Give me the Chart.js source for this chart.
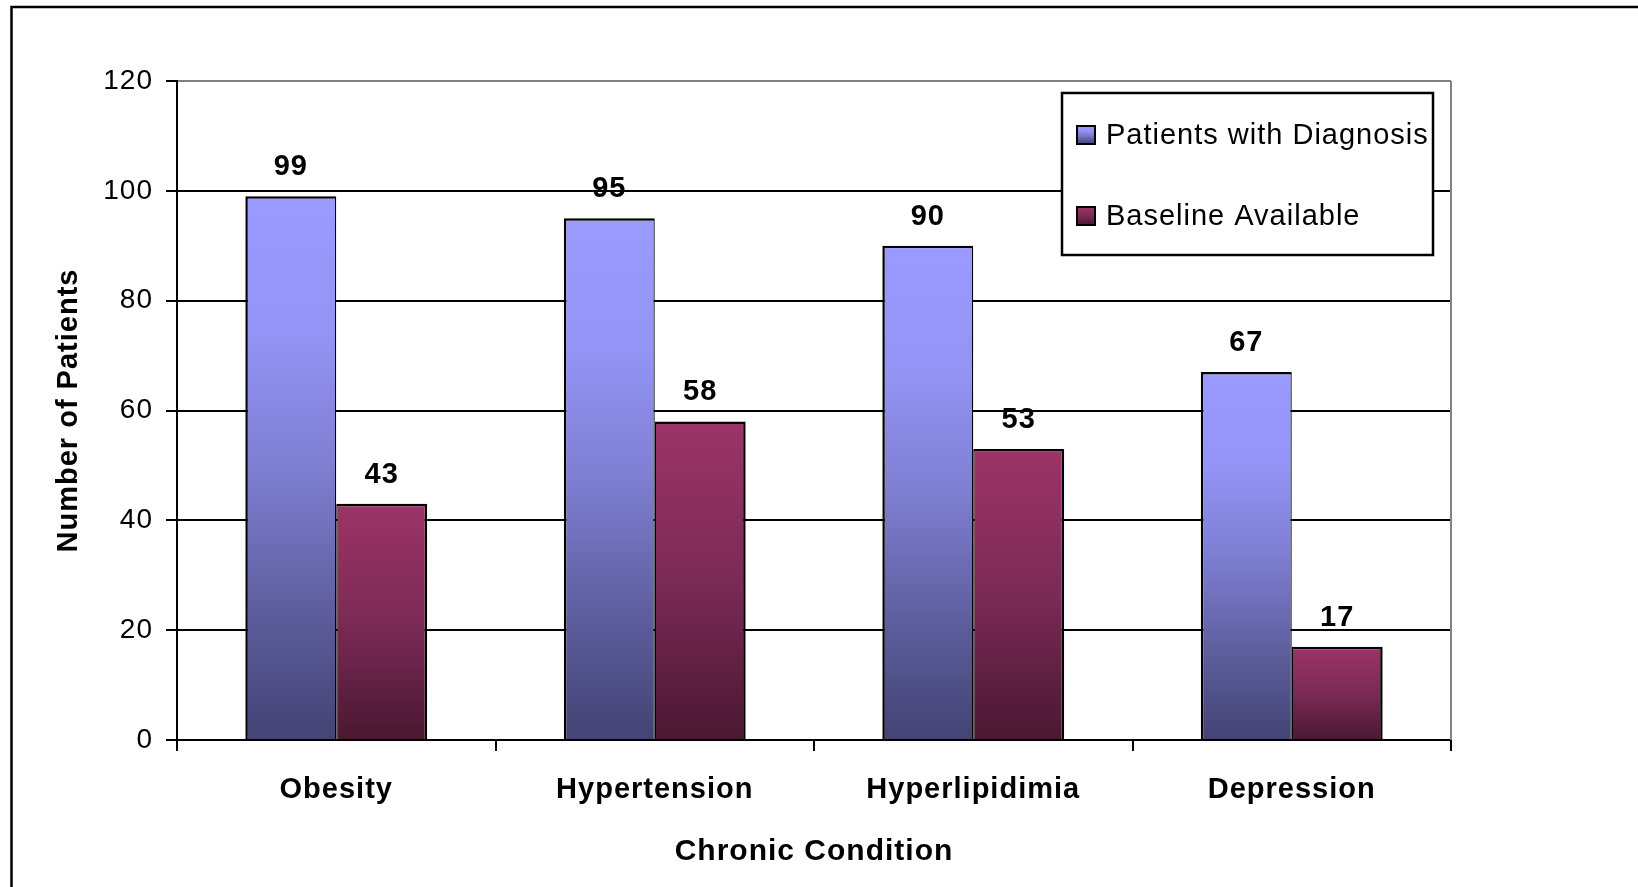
<!DOCTYPE html>
<html>
<head>
<meta charset="utf-8">
<title>Chronic Condition</title>
<style>
  html, body { margin: 0; padding: 0; background: #fff; }
  canvas { display: block; }
</style>
<script src="https://cdn.jsdelivr.net/npm/chart.js@4.4.1/dist/chart.umd.min.js"></script>
</head>
<body>
<canvas id="chart" width="1638" height="887"></canvas>
<script>
// ---- data ----
const categories = ['Obesity', 'Hypertension', 'Hyperlipidimia', 'Depression'];
const patientsWithDiagnosis = [99, 95, 90, 67];
const baselineAvailable = [43, 58, 53, 17];
const yTicks = [0, 20, 40, 60, 80, 100, 120];
const seriesNames = ['Patients with Diagnosis', 'Baseline Available'];
const xTitle = 'Chronic Condition';
const yTitle = 'Number of Patients';

// ---- styling ----
const FONT = '"Liberation Sans", Arial, Helvetica, sans-serif';
const blueStops = [[0, '#9a9aff'], [0.25, '#9494f6'], [0.5, '#7e7ed2'], [0.75, '#5f5fa0'], [1, '#434374']];
const redStops = [[0, '#9c3467'], [0.5, '#7b2a56'], [1, '#4a1831']];

function makeGradient(ctx2d, top, bottom, stops) {
  const g = ctx2d.createLinearGradient(0, top, 0, bottom);
  stops.forEach(([o, c]) => g.addColorStop(o, c));
  return g;
}

// each bar gets its own top-to-bottom shading
function barFill(stops) {
  return (ctx) => {
    const chart = ctx.chart;
    if (!chart.chartArea || ctx.type !== 'data') return stops[0][1];
    const y = chart.scales.y;
    return makeGradient(chart.ctx, y.getPixelForValue(ctx.raw), y.getPixelForValue(0), stops);
  };
}

// outer frame of the figure, plus slightly open text tracking for all labels
const framePlugin = {
  id: 'frame',
  beforeDraw(chart) {
    const c = chart.ctx;
    c.letterSpacing = '1px';
    c.save();
    c.fillStyle = '#fff';
    c.fillRect(0, 0, chart.width, chart.height);
    c.strokeStyle = '#000';
    c.lineWidth = 2.5;
    c.beginPath();
    c.moveTo(11.5, chart.height + 5);
    c.lineTo(11.5, 7);
    c.lineTo(chart.width + 5, 7);
    c.stroke();
    c.restore();
  }
};

// grey right edge of the plot area
const plotEdgePlugin = {
  id: 'plotEdge',
  beforeDatasetsDraw(chart) {
    const {ctx: c, chartArea: a} = chart;
    c.save();
    c.strokeStyle = '#808080';
    c.lineWidth = 2;
    c.beginPath();
    c.moveTo(a.right, a.top);
    c.lineTo(a.right, a.bottom);
    c.stroke();
    c.restore();
  }
};

// value labels above bars
const valueLabelPlugin = {
  id: 'valueLabels',
  afterDatasetsDraw(chart) {
    const c = chart.ctx;
    c.save();
    c.font = 'bold 29px ' + FONT;
    c.fillStyle = '#000';
    c.textAlign = 'center';
    c.textBaseline = 'middle';
    chart.data.datasets.forEach((ds, i) => {
      chart.getDatasetMeta(i).data.forEach((bar, j) => {
        c.fillText(String(ds.data[j]), bar.x, bar.y - 29);
      });
    });
    c.restore();
  }
};

// boxed legend inside the plot area
const boxLegendPlugin = {
  id: 'boxLegend',
  afterDraw(chart) {
    const c = chart.ctx;
    const box = {x: 1062, y: 93, w: 371, h: 162};
    c.save();
    c.fillStyle = '#fff';
    c.fillRect(box.x, box.y, box.w, box.h);
    c.strokeStyle = '#000';
    c.lineWidth = 2.5;
    c.strokeRect(box.x, box.y, box.w, box.h);
    const rows = [135, 216];
    const stopsList = [blueStops, redStops];
    c.font = '29px ' + FONT;
    c.textBaseline = 'middle';
    c.textAlign = 'left';
    chart.data.datasets.forEach((ds, i) => {
      const cy = rows[i];
      const s = 18;
      c.fillStyle = makeGradient(c, cy - s / 2, cy + s / 2, stopsList[i]);
      c.fillRect(1077, cy - s / 2, s, s);
      c.lineWidth = 2;
      c.strokeStyle = '#000';
      c.strokeRect(1077, cy - s / 2, s, s);
      c.fillStyle = '#000';
      c.fillText(ds.label, 1106, cy + 1);
    });
    c.restore();
  }
};

new Chart(document.getElementById('chart'), {
  type: 'bar',
  data: {
    labels: categories,
    datasets: [
      {
        label: seriesNames[0],
        data: patientsWithDiagnosis,
        backgroundColor: barFill(blueStops),
        borderColor: '#000',
        borderWidth: {top: 2.5, left: 2.5, right: 1.25, bottom: 0}
      },
      {
        label: seriesNames[1],
        data: baselineAvailable,
        backgroundColor: barFill(redStops),
        borderColor: '#000',
        borderWidth: {top: 2.5, left: 1.25, right: 2.5, bottom: 0}
      }
    ]
  },
  options: {
    responsive: false,
    animation: false,
    devicePixelRatio: 1,
    categoryPercentage: 0.571,
    barPercentage: 1,
    layout: { padding: { top: 81, right: 187, bottom: 0, left: 0 } },
    plugins: {
      legend: { display: false },
      tooltip: { enabled: false }
    },
    scales: {
      x: {
        grid: { offset: true, drawOnChartArea: false, drawTicks: true, tickLength: 11, color: '#000', lineWidth: 2 },
        border: { display: true, color: '#000', width: 2 },
        ticks: { color: '#000', font: { family: FONT, size: 29, weight: 'bold' }, padding: 22 },
        title: { display: true, text: xTitle, color: '#000', font: { family: FONT, size: 30, weight: 'bold' }, padding: { top: 0, bottom: 17 } },
        afterFit: (s) => { s.height = 147; }
      },
      y: {
        min: 0,
        max: 120,
        afterBuildTicks: (s) => { s.ticks = yTicks.map(v => ({ value: v })); },
        grid: {
          color: (c) => (c.tick && c.tick.value === 120 ? '#808080' : '#000'),
          tickColor: '#000',
          lineWidth: 2,
          tickLength: 11,
          drawTicks: true
        },
        border: { display: true, color: '#000', width: 2 },
        ticks: { color: '#000', font: { family: FONT, size: 28 }, padding: 13 },
        title: { display: true, text: yTitle, color: '#000', font: { family: FONT, size: 29, weight: 'bold' }, padding: { top: 52, bottom: 0 } },
        afterFit: (s) => { s.width = 177; }
      }
    }
  },
  plugins: [framePlugin, plotEdgePlugin, valueLabelPlugin, boxLegendPlugin]
});
</script>
</body>
</html>
